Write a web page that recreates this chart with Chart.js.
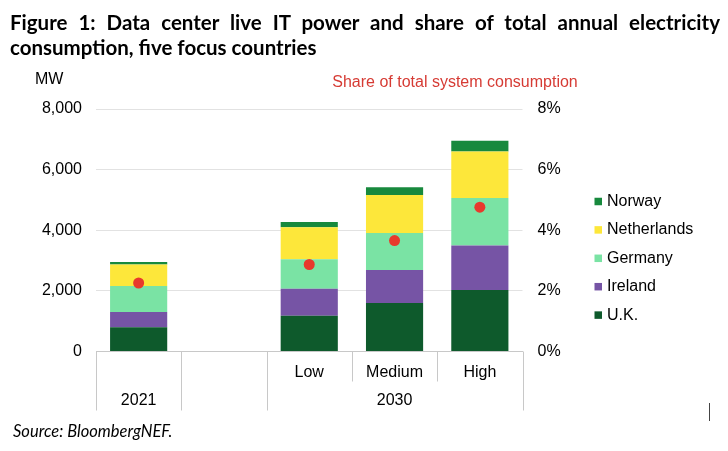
<!DOCTYPE html>
<html>
<head>
<meta charset="utf-8">
<script src="https://cdn.jsdelivr.net/npm/chart.js@4.4.1/dist/chart.umd.min.js"></script>
<style>
  html, body { margin: 0; padding: 0; background: #fff; }
  body { width: 728px; height: 451px; position: relative; overflow: hidden; }
  #title { position: absolute; left: 10px; top: 10px; width: 710px; font-family: Lato, sans-serif; font-weight: 700; font-size: 20.5px; line-height: 25px; color: #000; }
  #title .l1 { text-align: justify; text-align-last: justify; white-space: nowrap; }
  #source { position: absolute; left: 13px; top: 421px; font-family: Lato, sans-serif; font-style: italic; font-size: 16.5px; line-height: 20px; color: #000; }
  #cursor { position: absolute; left: 709px; top: 403px; width: 1px; height: 18px; background: #444; }
  #wrap { position: absolute; left: 0; top: 0; width: 728px; height: 451px; }
</style>
</head>
<body>
<div id="wrap"><canvas id="chart" width="728" height="451"></canvas></div>
<div id="title">
  <div class="l1">Figure 1: Data center live IT power and share of total annual electricity</div>
  <div>consumption, five focus countries</div>
</div>
<div id="source">Source: BloombergNEF.</div>
<div id="cursor"></div>
<script>
// categories: first row labels, and second row groups [label, first index, last index]
const subLabels = ["", "", "Low", "Medium", "High"];
const groupLabels = [["2021", 0, 0], ["", 1, 1], ["2030", 2, 4]];

// MW by country
const ukMW = [800, null, 1180, 1600, 2030];
const irelandMW = [500, null, 890, 1090, 1470];
const germanyMW = [860, null, 970, 1220, 1560];
const netherlandsMW = [710, null, 1060, 1250, 1540];
const norwayMW = [85, null, 170, 260, 350];

// share of total system consumption, %
const sharePct = [2.26, null, 2.87, 3.66, 4.76];

const yTicksMW = [0, 2000, 4000, 6000, 8000];
const yTicksPct = [0, 2, 4, 6, 8];

const FONT = "'Liberation Sans', Arial, sans-serif";

const axisExtras = {
    id: "axisExtras",
    afterDraw(chart) {
        const { ctx, chartArea, scales: { x } } = chart;
        const n = subLabels.length;
        const w = (x.right - x.left) / n;
        const base = chartArea.bottom;
        ctx.save();

        // category separators below the axis
        ctx.strokeStyle = "#c8c8c8";
        ctx.lineWidth = 1;
        for (let i = 0; i <= n; i++) {
            const px = Math.round(x.left + i * w) + 0.5;
            const groupEdge = groupLabels.some(g => g[1] === i || g[2] + 1 === i);
            ctx.beginPath();
            ctx.moveTo(px, base);
            ctx.lineTo(px, base + (groupEdge ? 59 : 30));
            ctx.stroke();
        }

        ctx.fillStyle = "#000";
        ctx.font = "16px " + FONT;
        ctx.textAlign = "center";
        ctx.textBaseline = "middle";
        subLabels.forEach((lab, i) => {
            if (lab) ctx.fillText(lab, x.getPixelForValue(i), base + 21);
        });
        groupLabels.forEach(([lab, a, b]) => {
            if (!lab) return;
            const cx = (x.getPixelForValue(a) + x.getPixelForValue(b)) / 2;
            ctx.fillText(lab, cx, base + 49);
        });

        // axis titles
        ctx.textBaseline = "alphabetic";
        ctx.textAlign = "left";
        ctx.fillText("MW", 35, 84);
        ctx.textAlign = "center";
        ctx.fillStyle = "#d63b34";
        ctx.fillText("Share of total system consumption", 455, 87);

        // legend, reversed order
        const bars = chart.data.datasets.filter(d => d.type !== "line").slice().reverse();
        ctx.textAlign = "left";
        ctx.textBaseline = "middle";
        bars.forEach((d, i) => {
            const cy = 201.5 + i * 28.4;
            ctx.fillStyle = d.backgroundColor;
            ctx.fillRect(594.5, cy - 3.75, 7.5, 7.5);
            ctx.fillStyle = "#000";
            ctx.fillText(d.label, 607, cy);
        });
        ctx.restore();
    }
};

new Chart(document.getElementById("chart"), {
    type: "bar",
    data: {
        labels: subLabels.map((s, i) => s || groupLabels.find(g => g[1] <= i && i <= g[2])[0]),
        datasets: [
            { type: "line", label: "Share of total system consumption", data: sharePct, yAxisID: "y2",
              showLine: false, pointRadius: 5.5, pointHoverRadius: 5.5, pointBackgroundColor: "#e8392c",
              pointBorderWidth: 0, backgroundColor: "#e8392c", order: 0 },
            { label: "U.K.", data: ukMW, backgroundColor: "#0e5a2c", order: 1 },
            { label: "Ireland", data: irelandMW, backgroundColor: "#7654a5", order: 1 },
            { label: "Germany", data: germanyMW, backgroundColor: "#7ae3a4", order: 1 },
            { label: "Netherlands", data: netherlandsMW, backgroundColor: "#fde73a", order: 1 },
            { label: "Norway", data: norwayMW, backgroundColor: "#17893d", order: 1 },
        ]
    },
    options: {
        responsive: false,
        animation: false,
        layout: { padding: { top: 109, left: 0, right: 0, bottom: 0 } },
        datasets: { bar: { categoryPercentage: 1, barPercentage: 0.67, stack: "mw" } },
        scales: {
            x: {
                stacked: true,
                grid: { display: false },
                border: { display: true, color: "#c8c8c8" },
                ticks: { display: false },
                afterFit: (s) => { s.height = 99.5; },
            },
            y: {
                stacked: true,
                min: 0,
                max: 8000,
                afterBuildTicks: (s) => { s.ticks = yTicksMW.map(v => ({ value: v })); },
                grid: { color: (c) => c.tick && c.tick.value === 0 ? "#c8c8c8" : "#e2e2e2", drawTicks: false },
                border: { display: false },
                ticks: {
                    padding: 14,
                    color: "#000",
                    font: { family: FONT, size: 16 },
                    callback: (v) => v.toLocaleString("en-US"),
                },
                afterFit: (s) => { s.width = 96; },
            },
            y2: {
                position: "right",
                min: 0,
                max: 8,
                afterBuildTicks: (s) => { s.ticks = yTicksPct.map(v => ({ value: v })); },
                grid: { display: false, drawTicks: false },
                border: { display: false },
                ticks: {
                    padding: 15,
                    color: "#000",
                    font: { family: FONT, size: 16 },
                    callback: (v) => v + "%",
                },
                afterFit: (s) => { s.width = 205.5; },
            },
        },
        plugins: {
            legend: { display: false },
            tooltip: { enabled: false },
        }
    },
    plugins: [axisExtras]
});
</script>
</body>
</html>
